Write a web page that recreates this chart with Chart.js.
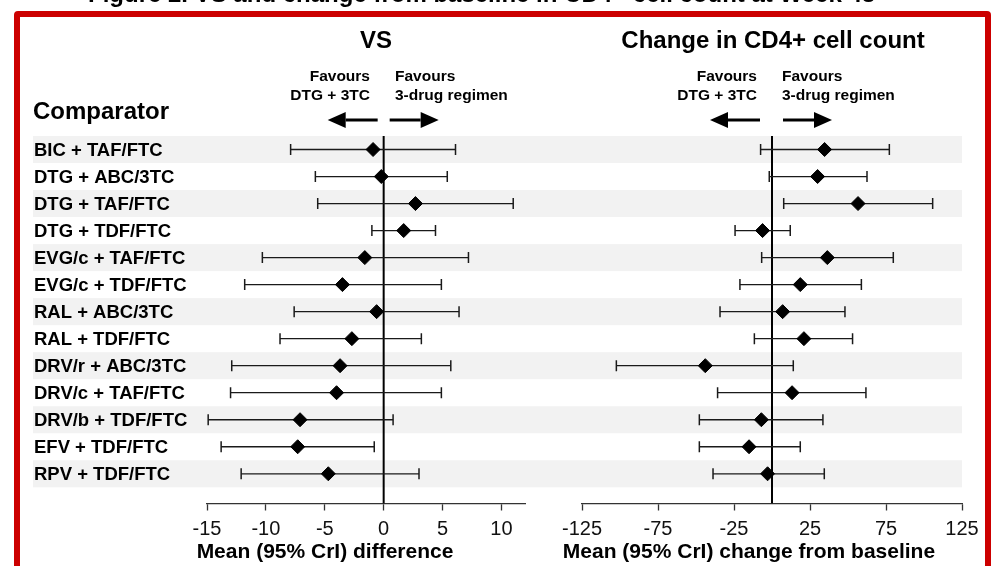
<!DOCTYPE html>
<html>
<head>
<meta charset="utf-8">
<script src="https://cdn.jsdelivr.net/npm/chart.js@4.4.1/dist/chart.umd.min.js"></script>
<style>
body{margin:0;background:#fff;font-family:"Liberation Sans",Arial,sans-serif;}
#wrap{position:relative;width:1003px;height:566px;overflow:hidden;background:#fff;}
canvas{position:absolute;left:0;top:0;}
.t{position:absolute;font-weight:bold;color:#000;white-space:nowrap;line-height:1;}
.c{transform:translate(-50%,-50%);}
</style>
</head>
<body>
<div id="wrap">
  <div id="frame" style="position:absolute;left:14px;top:11px;width:977px;height:640px;border:6px solid #cc0000;border-radius:4px;box-sizing:border-box;"></div>
  <canvas id="vsChart" width="1003" height="566"></canvas>
  <canvas id="cd4Chart" width="1003" height="566"></canvas>

  <div class="t" style="left:88px;top:-18px;font-size:24px;">Figure 2. VS and change from baseline in CD4+ cell count at Week 48</div>
  <div class="t c" style="left:376px;top:40px;font-size:24px;">VS</div>
  <div class="t c" style="left:773px;top:40px;font-size:24px;">Change in CD4+ cell count</div>
  <div class="t" style="left:33px;top:99px;font-size:24px;">Comparator</div>

  <div class="t" style="right:633px;top:66px;font-size:15.5px;line-height:19px;text-align:right;">Favours<br>DTG + 3TC</div>
  <div class="t" style="left:395px;top:66px;font-size:15.5px;line-height:19px;">Favours<br>3-drug regimen</div>
  <div class="t" style="right:246px;top:66px;font-size:15.5px;line-height:19px;text-align:right;">Favours<br>DTG + 3TC</div>
  <div class="t" style="left:782px;top:66px;font-size:15.5px;line-height:19px;">Favours<br>3-drug regimen</div>

  <div class="t c" style="left:325px;top:550px;font-size:21px;">Mean (95% CrI) difference</div>
  <div class="t c" style="left:749px;top:550px;font-size:21px;">Mean (95% CrI) change from baseline</div>
</div>
<script>
// comparators, top to bottom
const comparators = ['BIC + TAF/FTC', 'DTG + ABC/3TC', 'DTG + TAF/FTC', 'DTG + TDF/FTC',
  'EVG/c + TAF/FTC', 'EVG/c + TDF/FTC', 'RAL + ABC/3TC', 'RAL + TDF/FTC',
  'DRV/r + ABC/3TC', 'DRV/c + TAF/FTC', 'DRV/b + TDF/FTC', 'EFV + TDF/FTC', 'RPV + TDF/FTC'];

// VS: mean difference and 95% CrI
const vsMean = [-0.9, -0.2, 2.7, 1.7, -1.6, -3.5, -0.6, -2.7, -3.7, -4.0, -7.1, -7.3, -4.7];
const vsLow  = [-7.9, -5.8, -5.6, -1.0, -10.3, -11.8, -7.6, -8.8, -12.9, -13.0, -14.9, -13.8, -12.1];
const vsHigh = [6.1, 5.4, 11.0, 4.4, 7.2, 4.9, 6.4, 3.2, 5.7, 4.9, 0.8, -0.8, 3.0];
const vsTicks = [-15, -10, -5, 0, 5, 10];

// CD4+ change from baseline
const cd4Mean = [34.6, 30.0, 56.6, -6.2, 36.4, 18.6, 7.0, 21.0, -43.9, 13.2, -7.0, -15.1, -2.9];
const cd4Low  = [-7.5, -1.8, 7.7, -24.3, -6.8, -21.1, -34.2, -11.6, -102.4, -35.8, -47.8, -47.8, -38.8];
const cd4High = [77.2, 62.5, 105.7, 12.0, 79.8, 58.8, 48.0, 53.0, 14.0, 61.8, 33.5, 18.6, 34.4];
const cd4Ticks = [-125, -75, -25, 25, 75, 125];

const yMin = -0.5, yMax = 13.1;
const ink = '#1a1a1a';

function drawArrow(ctx, x1, x2, y) {
  const dir = x2 > x1 ? 1 : -1, head = 18;
  ctx.save();
  ctx.strokeStyle = '#000'; ctx.fillStyle = '#000'; ctx.lineWidth = 3;
  ctx.beginPath(); ctx.moveTo(x1, y); ctx.lineTo(x2 - dir * head, y); ctx.stroke();
  ctx.beginPath();
  ctx.moveTo(x2, y);
  ctx.lineTo(x2 - dir * head, y - 8);
  ctx.lineTo(x2 - dir * head, y + 8);
  ctx.closePath(); ctx.fill();
  ctx.restore();
}

const forestPlugin = {
  id: 'forest',
  beforeDatasetsDraw(chart, args, opts) {
    const ctx = chart.ctx, y = chart.scales.y;
    if (opts.bands) {
      ctx.save();
      ctx.fillStyle = '#f2f2f2';
      comparators.forEach((c, i) => {
        if (i % 2) return;
        const top = y.getPixelForValue(i - 0.5), bot = y.getPixelForValue(i + 0.5);
        ctx.fillRect(33, top, 962 - 33, bot - top);
      });
      ctx.restore();
    }
  },
  afterDraw(chart, args, opts) {
    const ctx = chart.ctx, y = chart.scales.y, x = chart.scales.x;
    if (opts.labels) {
      ctx.save();
      ctx.fillStyle = '#000';
      ctx.font = 'bold 18.5px "Liberation Sans", Arial, sans-serif';
      ctx.textAlign = 'left'; ctx.textBaseline = 'middle';
      comparators.forEach((c, i) => ctx.fillText(c, 34, y.getPixelForValue(i) + 1));
      ctx.restore();
    }
    const x0 = x.getPixelForValue(0), a = opts.arrows;
    drawArrow(ctx, x0 + a[0], x0 + a[1], 120);
    drawArrow(ctx, x0 + a[2], x0 + a[3], 120);
  }
};

function makePanel(id, mean, low, high, ticks, xMin, xMax, padLeft, padRight, extra) {
  const datasets = [{
    type: 'scatter',
    data: mean.map((m, i) => ({x: m, y: i})),
    pointStyle: 'rectRot', pointRadius: 7, pointHoverRadius: 7,
    backgroundColor: '#000', borderColor: '#000', borderWidth: 1, order: 0
  }];
  comparators.forEach((c, i) => datasets.push({
    type: 'line',
    data: [{x: low[i], y: i}, {x: high[i], y: i}],
    borderColor: ink, borderWidth: 1.3,
    pointStyle: 'line', pointRotation: 90, pointRadius: 5.5,
    pointBorderColor: ink, pointBorderWidth: 1.5, order: 1
  }));
  datasets.push({
    type: 'line',
    data: [{x: 0, y: yMin}, {x: 0, y: yMax}],
    borderColor: '#000', borderWidth: 2, pointRadius: 0, order: 2
  });

  return new Chart(document.getElementById(id), {
    type: 'scatter',
    data: {datasets},
    options: {
      responsive: false, animation: false, devicePixelRatio: 1,
      layout: {padding: {top: 136, left: padLeft, right: padRight, bottom: 18.5}},
      plugins: {legend: {display: false}, tooltip: {enabled: false}, forest: extra},
      scales: {
        x: {
          type: 'linear', min: xMin, max: xMax,
          afterBuildTicks: s => { s.ticks = ticks.map(v => ({value: v})); },
          ticks: {color: '#111', padding: 6.5, font: {family: '"Liberation Sans", Arial, sans-serif', size: 20}},
          grid: {drawOnChartArea: false, drawTicks: true, tickLength: 7, tickColor: '#333', tickWidth: 1.3},
          border: {color: '#333', width: 1.3}
        },
        y: {type: 'linear', reverse: true, min: yMin, max: yMax, display: false}
      }
    },
    plugins: [forestPlugin]
  });
}

makePanel('vsChart', vsMean, vsLow, vsHigh, vsTicks, -15, 12, 207, 478,
  {bands: true, labels: true, arrows: [-6, -56, 6, 55]});
makePanel('cd4Chart', cd4Mean, cd4Low, cd4High, cd4Ticks, -125, 125, 582, 41,
  {bands: false, labels: false, arrows: [-12, -62, 11, 60]});
</script>
</body>
</html>
